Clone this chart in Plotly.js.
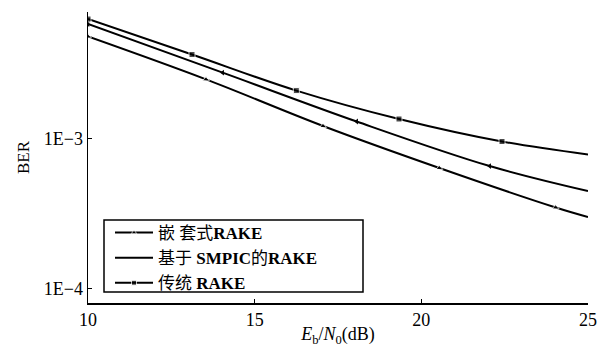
<!DOCTYPE html>
<html>
<head>
<meta charset="utf-8">
<script src="https://cdn.plot.ly/plotly-3.0.1.min.js"></script>
<style>html,body{margin:0;padding:0;background:#fff;}#chart{width:610px;height:347px;}</style>
</head>
<body>
<div id="chart"></div>
<script>
// Series
const nestedX = [10, 13.54, 17.05, 20.54, 24.03, 25];
const nestedY = [4.77e-3, 2.47e-3, 1.208e-3, 6.34e-4, 3.46e-4, 2.99e-4];
const smpicX = [10, 14.04, 18.06, 22.05, 25];
const smpicY = [5.78e-3, 2.74e-3, 1.294e-3, 6.53e-4, 4.45e-4];
const tradX = [10, 13.12, 16.25, 19.33, 22.42, 25];
const tradY = [6.24e-3, 3.62e-3, 2.08e-3, 1.345e-3, 9.52e-4, 7.80e-4];

const seriesNames = ["嵌 套式<b>RAKE</b>", "基于 <b>SMPIC</b>的<b>RAKE</b>", "传统 <b>RAKE</b>"];
const xTickVals = [10, 15, 20, 25];
const yTickVals = [1e-4, 1e-3];
const yTickText = ["1E\u22124", "1E\u22123"];

const FONT = '"Liberation Serif", "Noto Sans CJK SC", serif';
const sizesFor = (arr, s) => arr.map((_, i) => i === arr.length - 1 ? 0 : s);

const traces = [
  {
    x: nestedX, y: nestedY, name: seriesNames[0], mode: 'lines+markers',
    line: {color: '#000', width: 2, shape: 'spline', smoothing: 1},
    marker: {symbol: 'triangle-up', color: '#000', size: sizesFor(nestedX, 6)}
  },
  {
    x: smpicX, y: smpicY, name: seriesNames[1], mode: 'lines',
    line: {color: '#000', width: 2, shape: 'spline', smoothing: 1}
  },
  {
    x: smpicX.slice(0, -1), y: smpicY.slice(0, -1), mode: 'markers', showlegend: false,
    marker: {symbol: 'triangle-left', color: '#000', size: 5}, hoverinfo: 'skip'
  },
  {
    x: tradX, y: tradY, name: seriesNames[2], mode: 'lines+markers',
    line: {color: '#000', width: 2, shape: 'spline', smoothing: 1},
    marker: {symbol: 'square', color: '#000', size: sizesFor(tradX, 6)}
  }
];

const layout = {
  width: 610, height: 347,
  margin: {l: 88, r: 22, t: 12, b: 44},
  paper_bgcolor: '#fff', plot_bgcolor: '#fff',
  font: {family: FONT, size: 18, color: '#000'},
  showlegend: true,
  shapes: [{
    type: 'rect', xref: 'paper', yref: 'paper', layer: 'above',
    x0: 0.032, x1: 0.55, y0: 0.038, y1: 0.285,
    fillcolor: '#fff', line: {color: '#000', width: 1.5}
  }],
  legend: {
    x: 0.044, y: 0.1546, xanchor: 'left', yanchor: 'middle',
    bgcolor: 'rgba(0,0,0,0)', borderwidth: 0,
    font: {family: FONT, size: 17, color: '#000'},
    itemwidth: 38,
    tracegroupgap: 0
  },
  xaxis: {
    range: [10, 25], tickvals: xTickVals, ticktext: xTickVals.map(String),
    ticks: 'inside', ticklen: 4, tickwidth: 1, tickcolor: '#000',
    showline: true, linecolor: '#000', linewidth: 1.5, mirror: false,
    showgrid: false, zeroline: false,
    tickfont: {family: FONT, size: 18},
    title: {text: '<i>E</i><sub>b</sub>/<i>N</i><sub>0</sub>(dB)', font: {family: FONT, size: 18}, standoff: 3}
  },
  yaxis: {
    type: 'log', range: [-4.098, -2.158],
    tickvals: yTickVals, ticktext: yTickText,
    ticks: 'inside', ticklen: 4, tickwidth: 1, tickcolor: '#000',
    showline: true, linecolor: '#000', linewidth: 1.5, mirror: false,
    showgrid: false, zeroline: false,
    tickfont: {family: FONT, size: 18},
    title: {text: 'BER', font: {family: FONT, size: 17}, standoff: 10}
  }
};

Plotly.newPlot('chart', traces, layout, {displayModeBar: false, staticPlot: true});
</script>
</body>
</html>
